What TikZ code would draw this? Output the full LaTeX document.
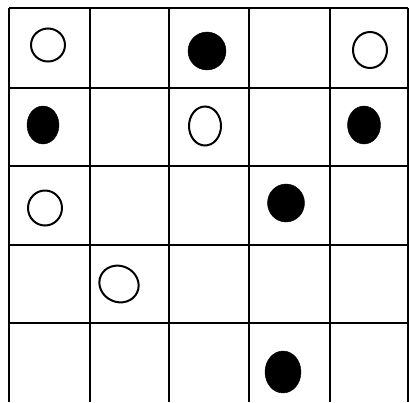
\documentclass[tikz,border=0pt]{standalone}
\usepackage{tikz}
\usetikzlibrary{shapes.geometric}

\begin{document}
\begin{tikzpicture}[
  x=1pt,y=-1pt,
  gridline/.style={black,line width=1.7pt},
  hole/.style={ellipse,draw=black,line width=2pt,fill=white,inner sep=0pt},
  stone/.style={ellipse,draw=black,fill=black,inner sep=0pt}
]
\useasboundingbox (0,0) rectangle (409,402);

% grid
\foreach \x in {9,90,169,249,330,408}
  \draw[gridline] (\x,8) -- (\x,402);
\foreach \y in {8,88,166,245,323}
  \draw[gridline] (9,\y) -- (408,\y);

% open pieces
\node[hole,minimum width=34pt,minimum height=33pt] (h11) at (48,45)  {};
\node[hole,minimum width=34pt,minimum height=36pt] (h15) at (370,50) {};
\node[hole,minimum width=32pt,minimum height=39pt] (h23) at (205,126) {};
\node[hole,minimum width=34pt,minimum height=35pt] (h31) at (45,208) {};
\node[hole,minimum width=40pt,minimum height=36pt,rotate=-25] (h42) at (119,284) {};

% filled pieces
\node[stone,minimum width=38pt,minimum height=38pt] (s13) at (207,51)  {};
\node[stone,minimum width=32pt,minimum height=38pt] (s21) at (43,125)  {};
\node[stone,minimum width=33pt,minimum height=38pt] (s25) at (364,125) {};
\node[stone,minimum width=37pt,minimum height=38pt] (s34) at (286,203) {};
\node[stone,minimum width=36pt,minimum height=42pt] (s54) at (283,372) {};

\end{tikzpicture}
\end{document}
